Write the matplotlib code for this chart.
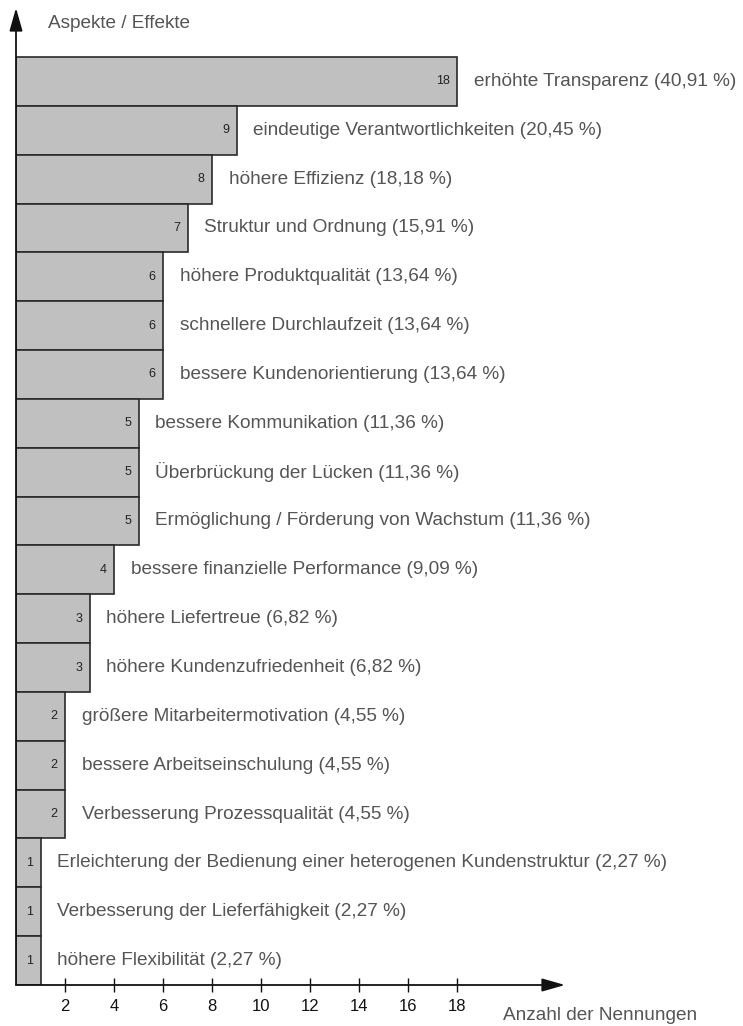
import matplotlib
matplotlib.use("Agg")
import matplotlib.pyplot as plt

categories = [
    "erhöhte Transparenz",
    "eindeutige Verantwortlichkeiten",
    "höhere Effizienz",
    "Struktur und Ordnung",
    "höhere Produktqualität",
    "schnellere Durchlaufzeit",
    "bessere Kundenorientierung",
    "bessere Kommunikation",
    "Überbrückung der Lücken",
    "Ermöglichung / Förderung von Wachstum",
    "bessere finanzielle Performance",
    "höhere Liefertreue",
    "höhere Kundenzufriedenheit",
    "größere Mitarbeitermotivation",
    "bessere Arbeitseinschulung",
    "Verbesserung Prozessqualität",
    "Erleichterung der Bedienung einer heterogenen Kundenstruktur",
    "Verbesserung der Lieferfähigkeit",
    "höhere Flexibilität",
]
counts = [18, 9, 8, 7, 6, 6, 6, 5, 5, 5, 4, 3, 3, 2, 2, 2, 1, 1, 1]
percents = ["40,91", "20,45", "18,18", "15,91", "13,64", "13,64", "13,64",
            "11,36", "11,36", "11,36", "9,09", "6,82", "6,82", "4,55", "4,55",
            "4,55", "2,27", "2,27", "2,27"]
xticks = [2, 4, 6, 8, 10, 12, 14, 16, 18]

plt.rcParams['font.family'] = ['Liberation Sans', 'DejaVu Sans']

W, H = 743, 1026
fig = plt.figure(figsize=(W / 100, H / 100), dpi=100)
x0, x1 = 16, 565
y0, y1 = 985, 8
ax = fig.add_axes([x0 / W, 1 - y0 / H, (x1 - x0) / W, (y0 - y1) / H])
unit = (457 - 65) / 16.0
xmax = (x1 - x0) / unit
n = len(categories)
bar_h = (985 - 57) / n
ymax = (y0 - y1) / bar_h - 0.5
ax.set_xlim(0, xmax)
ax.set_ylim(-0.5, ymax)

ypos = [n - 1 - i for i in range(n)]
ax.barh(ypos, counts, height=1.0, left=0, color="#c0c0c0",
        edgecolor="#2a2a2a", linewidth=1.2, zorder=2)

for y, c, cat, p in zip(ypos, counts, categories, percents):
    ax.text(c - 0.3, y, str(c), ha="right", va="center", fontsize=9,
            color="#222222", zorder=3)
    ax.text(c + 0.68, y, f"{cat} ({p} %)", ha="left", va="center",
            fontsize=13.7, color="#555555", zorder=3)

for s in ["top", "right", "left", "bottom"]:
    ax.spines[s].set_visible(False)

# axes with arrows
ax.annotate("", xy=(xmax, -0.5), xytext=(0, -0.5),
            arrowprops=dict(arrowstyle="-|>,head_length=1.4,head_width=0.4",
                            color="#111111", lw=1.3, shrinkA=0, shrinkB=0),
            annotation_clip=False)
ax.annotate("", xy=(0, ymax), xytext=(0, -0.5),
            arrowprops=dict(arrowstyle="-|>,head_length=1.4,head_width=0.4",
                            color="#111111", lw=1.3, shrinkA=0, shrinkB=0),
            annotation_clip=False)

ax.set_yticks([])
ax.set_xticks(xticks)
ax.set_xticklabels([str(t) for t in xticks], fontsize=12, color="#111111")
ax.tick_params(axis="x", direction="inout", length=10, width=1.0,
               color="#111111", pad=5)

fig.text(48 / W, 1 - 24 / H, "Aspekte / Effekte", ha="left", va="center",
         fontsize=13.7, color="#555555")
fig.text(503 / W, 1 - 1016 / H, "Anzahl der Nennungen", ha="left",
         va="center", fontsize=13.7, color="#555555")

fig.savefig("out.png", dpi=100)
